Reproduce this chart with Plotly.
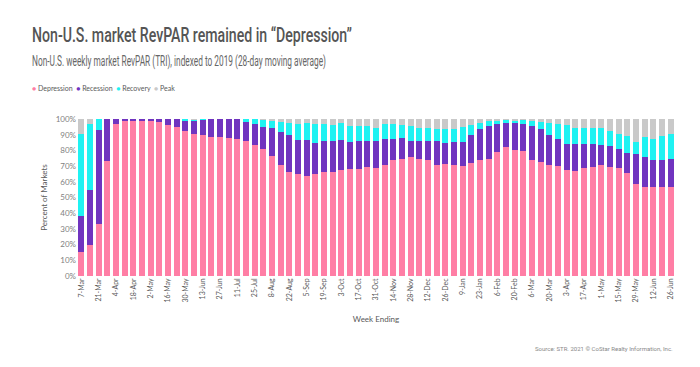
import plotly.graph_objects as go

weeks = ["7-Mar", "14-Mar", "21-Mar", "28-Mar", "4-Apr", "11-Apr", "18-Apr", "25-Apr",
         "2-May", "9-May", "16-May", "23-May", "30-May", "6-Jun", "13-Jun", "20-Jun",
         "27-Jun", "4-Jul", "11-Jul", "18-Jul", "25-Jul", "1-Aug", "8-Aug", "15-Aug",
         "22-Aug", "29-Aug", "5-Sep", "12-Sep", "19-Sep", "26-Sep", "3-Oct", "10-Oct",
         "17-Oct", "24-Oct", "31-Oct", "7-Nov", "14-Nov", "21-Nov", "28-Nov", "5-Dec",
         "12-Dec", "19-Dec", "26-Dec", "2-Jan", "9-Jan", "16-Jan", "23-Jan", "30-Jan",
         "6-Feb", "13-Feb", "20-Feb", "27-Feb", "6-Mar", "13-Mar", "20-Mar", "27-Mar",
         "3-Apr", "10-Apr", "17-Apr", "24-Apr", "1-May", "8-May", "15-May", "22-May",
         "29-May", "5-Jun", "12-Jun", "19-Jun", "26-Jun"]

depression = [15, 20, 33, 73.5, 96.6, 99, 99, 99, 99, 98, 96.4, 95, 92.3, 90.6, 89.8, 88.5,
              88.5, 87.8, 87, 85.7, 83.6, 81, 76.3, 71, 66.5, 65, 64, 64.8, 66.5, 66, 67.8, 68,
              68.2, 69.3, 68.9, 70.4, 73.6, 74.6, 75.7, 74.6, 73.6, 71, 71.4, 70.4, 70, 72,
              74, 74.6, 78.9, 82.3, 80.4, 79.5, 73.6, 72.5, 70.4, 70, 67.6, 67.2, 68.7, 69.7,
              71, 69.7, 68.9, 65.9, 58.6, 56.5, 56.5, 56.5, 56.5]

recession = [23, 35, 60, 26.5, 3.4, 1, 1, 1, 1, 2, 3.6, 5, 6.4, 8.4, 9.7, 11.5,
             11.5, 12.2, 13, 12.3, 13.2, 14, 17.7, 20.7, 23.1, 21.8, 22.8, 20.2, 19.2, 19.7, 18.8, 17.3,
             17.5, 16.7, 17.1, 17, 13.8, 13, 10.3, 11.4, 12.4, 15, 13.5, 14.9, 15.3, 18,
             19.4, 20.7, 18.1, 14.9, 17, 17.1, 21.7, 21.3, 19.6, 17.4, 16.6, 17, 15.5, 14.5,
             12.2, 12.8, 12.1, 12.6, 19.4, 19.4, 17.7, 17.3, 18.1]

recovery = [52.6, 42, 7, 0, 0, 0, 0, 0, 0, 0, 0, 0, 1.3, 0.8, 0.5, 0,
            0, 0, 0, 2, 3.2, 4.4, 5, 6.3, 7.8, 9.8, 10.6, 11.8, 10.9, 10.7, 11.1, 10.2,
            9.8, 9.5, 8.2, 9.6, 9.4, 8.4, 9.5, 8.2, 8.2, 7.4, 8.5, 8.1, 9.6, 6.4,
            4, 3.4, 2, 2.2, 1.6, 2.8, 3.4, 4.2, 7.7, 9.4, 12.2, 10.3, 10.3, 10.3,
            11.3, 10, 9.2, 10.5, 7.3, 12.6, 12.8, 15.2, 15.8]

peak = [9.4, 3, 0, 0, 0, 0, 0, 0, 0, 0, 0, 0, 0, 0.2, 0, 0,
        0, 0, 0, 0, 0, 0.6, 1, 2, 2.6, 3.4, 2.6, 3.2, 3.4, 3.6, 2.3, 4.5,
        4.5, 4.5, 5.8, 3, 3.2, 4, 4.5, 5.8, 5.8, 6.6, 6.6, 6.6, 5.1, 3.6,
        2.6, 1.3, 1, 0.6, 1, 0.6, 1.3, 2, 2.3, 3.2, 3.6, 5.5, 5.5, 5.5,
        5.5, 7.5, 9.8, 11, 14.7, 11.5, 13, 11, 9.6]

series = [("Depression", depression, "#FF7EA5"),
          ("Recession", recession, "#7034BF"),
          ("Recovery", recovery, "#1FF2F2"),
          ("Peak", peak, "#C9C9C9")]

y_ticks = [0, 10, 20, 30, 40, 50, 60, 70, 80, 90, 100]
y_tick_text = [f"{v}%" for v in y_ticks]

fig = go.Figure()
for name, vals, col in series:
    fig.add_trace(go.Bar(x=weeks, y=vals, name=name, marker_color=col,
                         marker_line_width=0, showlegend=False))

head = "Roboto, sans-serif"
body = "Lato, Open Sans, sans-serif"

fig.update_layout(
    barmode="stack",
    bargap=0.34,
    width=700, height=367,
    margin=dict(l=77, r=25, t=119, b=91),
    paper_bgcolor="white", plot_bgcolor="white",
    font=dict(family=body, size=8, color="#595959"),
    xaxis=dict(type="category", tickmode="array", tickvals=weeks[::2], ticktext=weeks[::2],
               tickangle=-90, tickfont=dict(size=7, color="#595959"), showgrid=False,
               showline=False, ticks="", range=[-0.5, len(weeks) - 0.5],
               title=dict(text="Week Ending", font=dict(size=8, color="#595959"), standoff=14)),
    yaxis=dict(range=[0, 100], tickvals=y_ticks, ticktext=y_tick_text, showgrid=False,
               zeroline=False, showline=False, ticks="", tickfont=dict(size=8, color="#7f7f7f"),
               title=dict(text="Percent of Markets", font=dict(size=8, color="#595959"), standoff=6)),
)

legend_html = "&nbsp; ".join(
    f"<span style='color:{c}'>●</span> {n}" for n, _, c in series)

fig.add_annotation(text="Non-U.S. market RevPAR remained in “Depression”", align="left",
                   xref="paper", yref="paper", x=-0.0786, y=1.535, xanchor="left", yanchor="middle",
                   showarrow=False, font=dict(family=head, size=21, color="#555555", weight=500))
fig.add_annotation(text="Non-U.S. weekly market RevPAR (TRI), indexed to 2019 (28-day moving average)",
                   align="left",
                   xref="paper", yref="paper", x=-0.0786, y=1.364, xanchor="left", yanchor="middle",
                   showarrow=False, font=dict(family=head, size=14, color="#666666"))
fig.add_annotation(text=legend_html, align="left",
                   xref="paper", yref="paper", x=-0.0786, y=1.197, xanchor="left", yanchor="middle",
                   showarrow=False, font=dict(family=body, size=7, color="#595959"))
fig.add_annotation(text="Source: STR. 2021 © CoStar Realty Information, Inc.", align="right",
                   xref="paper", yref="paper", x=1.0, y=-0.46, xanchor="right", yanchor="middle",
                   showarrow=False, font=dict(family=head, size=6, color="#888888"))

post = """
document.body.style.margin='0';
var fits = {'Non-U.S. market RevPAR remained in': 320, 'Non-U.S. weekly market': 294};
document.querySelectorAll('text.annotation-text').forEach(function(t){
  var s = t.textContent;
  Object.keys(fits).forEach(function(k){
    if (s.indexOf(k) === 0) {
      t.setAttribute('textLength', fits[k]);
      t.setAttribute('lengthAdjust', 'spacingAndGlyphs');
    }
  });
});
"""

fig.write_html("out.html", post_script=post, config={"displayModeBar": False})
